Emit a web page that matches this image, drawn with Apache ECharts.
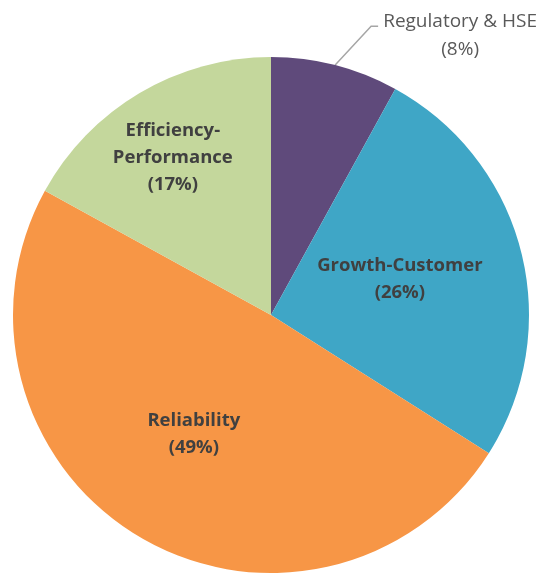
<!DOCTYPE html>
<html><head><meta charset="utf-8">
<script src="https://cdn.jsdelivr.net/npm/echarts@6/dist/echarts.min.js"></script>
<style>html,body{margin:0;padding:0;background:#fff}#c{width:540px;height:574px}</style>
</head><body><div id="c"></div>
<script>
const categories = ['Regulatory & HSE', 'Growth-Customer', 'Reliability', 'Efficiency-\nPerformance'];
const values = [8, 26, 49, 17];
const colors = ['#5F4A7B', '#3FA6C6', '#F79646', '#C4D79C'];
const insideShift = [[22, 9], [1, -3], [-10, 6], [-31, -44]];

const chart = echarts.init(document.getElementById('c'));
const data = categories.map((n, i) => {
  const d = { name: n, value: values[i], itemStyle: { color: colors[i] } };
  if (i === 0) {
    d.label = {
      position: 'outside',
      formatter: '{a|Regulatory & HSE}\n{a|({c}%)}',
      rich: { a: { width: 160, align: 'center', fontSize: 19, fontWeight: 'normal', color: '#595959', fontFamily: 'Open Sans', lineHeight: 28 } }
    };
    d.labelLine = { show: true, length: 40, length2: 8, lineStyle: { color: '#A6A6A6', width: 1.5 } };
  }
  return d;
});
chart.setOption({
  animation: false,
  series: [{
    type: 'pie',
    center: [271, 315],
    radius: [0, 258],
    startAngle: 90,
    clockwise: true,
    data: data,
    label: {
      position: 'inside',
      formatter: '{b}\n({c}%)',
      fontFamily: 'Open Sans',
      fontWeight: 'bold',
      fontSize: 18.5,
      lineHeight: 27,
      color: '#404040'
    },
    labelLine: { show: false },
    labelLayout: function (p) {
      const s = insideShift[p.dataIndex];
      const out = { dx: s[0], dy: s[1] };
      if (p.dataIndex === 0 && p.labelLinePoints) {
        const a = p.labelLinePoints[0];
        const lx = p.labelRect.x + s[0];
        const ly = p.labelRect.y + s[1] + 19;
        out.labelLinePoints = [a, [lx - 9, ly], [lx - 2, ly]];
      }
      return out;
    }
  }]
});
</script></body></html>
